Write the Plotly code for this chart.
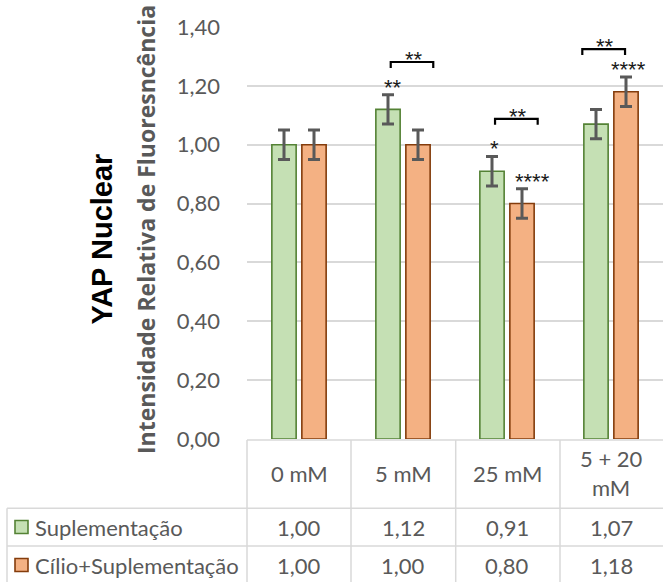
import plotly.graph_objects as go

# ---- data -------------------------------------------------------------
categories = ["0 mM", "5 mM", "25 mM", "5 + 20<br>mM"]
series_names = ["Suplementação", "Cílio+Suplementação"]
suplementacao = [1.00, 1.12, 0.91, 1.07]
cilio_suplementacao = [1.00, 1.00, 0.80, 1.18]
err_suplementacao = [0.05, 0.05, 0.05, 0.05]
err_cilio = [0.05, 0.05, 0.05, 0.05]
y_ticks = [0.0, 0.2, 0.4, 0.6, 0.8, 1.0, 1.2, 1.4]

# significance over single bars: (category, series, label)
bar_marks = [(1, 0, "**"), (2, 0, "*"), (2, 1, "****"), (3, 1, "****")]
# significance brackets: (category, label, bracket level)
bracket_marks = [(1, "**", 1.281), (2, "**", 1.088), (3, "**", 1.325)]

# ---- style ------------------------------------------------------------
FONT = "Lato"
STAR_FONT = "Liberation Sans"
GREY = "#595959"
GRID = "#d9d9d9"
FILLS = ["#c5e0b4", "#f4b183"]
EDGES = ["#548235", "#843c0c"]
BARGAP, GROUPGAP = 0.423, 0.19
SLOT = (1 - BARGAP) / 2
bar_mark_xshift = [4.5, 2, 10, 2]
bracket_span = [(-0.118, 0.291), (-0.115, 0.295), (-0.276, 0.135)]

W, H = 663, 582
L, T, B = 247, 27, 143
PW, PH = W - L, H - T - B


def px(x):
    return (x - L) / PW


def py(y):
    return (H - B - y) / PH


def fmt(v):
    return f"{v:.2f}".replace(".", ",")


xs = list(range(len(categories)))
values = [suplementacao, cilio_suplementacao]
errors = [err_suplementacao, err_cilio]

fig = go.Figure()
for i in range(2):
    fig.add_trace(go.Bar(
        x=xs, y=values[i], name=series_names[i],
        marker=dict(color=FILLS[i], line=dict(color=EDGES[i], width=1.6)),
        error_y=dict(type="data", array=errors[i], color=GREY,
                     thickness=3, width=6),
        showlegend=False,
    ))

annotations = []
shapes = []
star_font = dict(family=STAR_FONT, size=22, color="#1a1a1a")

# stars above bars
for (c, s, lab), xsft in zip(bar_marks, bar_mark_xshift):
    xc = c + (s - 0.5) * SLOT
    top = values[s][c] + errors[s][c]
    annotations.append(dict(
        x=xc, y=top, xref="x", yref="y", text=lab, showarrow=False,
        xshift=xsft, yshift=-7, yanchor="bottom", font=star_font))

# brackets with stars
for (c, lab, lvl), (a, b) in zip(bracket_marks, bracket_span):
    leg = 6 / (PH / 1.4)
    shapes.append(dict(
        type="path", xref="x", yref="y",
        path=f"M {c + a} {lvl - leg} L {c + a} {lvl} L {c + b} {lvl} L {c + b} {lvl - leg}",
        line=dict(color="black", width=2.2)))
    annotations.append(dict(
        x=c + (a + b) / 2, y=lvl, xref="x", yref="y", text=lab,
        showarrow=False, xshift=1.5, yshift=-12, yanchor="bottom",
        font=star_font))

# axis titles
annotations.append(dict(
    x=px(102), y=py(239.5), xref="paper", yref="paper",
    text="<b>YAP Nuclear</b>", textangle=-90, showarrow=False,
    xanchor="center", yanchor="middle",
    font=dict(family="Liberation Sans", size=29, color="black")))
annotations.append(dict(
    x=px(146), y=py(230), xref="paper", yref="paper",
    text="<b>Intensidade Relativa de Fluoresncência</b>", textangle=-90,
    showarrow=False, xanchor="center", yanchor="middle",
    font=dict(family="Open Sans", size=23, color=GREY)))

# ---- data table under the plot ---------------------------------------
row_top, row1, row2, row_bot = 440, 508.3, 546, 583
col_lines = [247, 351, 455.7, 560]
line_style = dict(color=GRID, width=1.5)

shapes.append(dict(type="line", xref="paper", yref="paper",
                   x0=px(247), x1=px(663), y0=py(row_top), y1=py(row_top),
                   line=line_style))
for yy in (row1, row2):
    shapes.append(dict(type="line", xref="paper", yref="paper",
                       x0=px(7), x1=px(663), y0=py(yy), y1=py(yy),
                       line=line_style))
for xx in col_lines:
    shapes.append(dict(type="line", xref="paper", yref="paper",
                       x0=px(xx), x1=px(xx), y0=py(row_top), y1=py(row_bot),
                       line=line_style))
shapes.append(dict(type="line", xref="paper", yref="paper",
                   x0=px(7), x1=px(7), y0=py(row1), y1=py(row_bot),
                   line=line_style))

cell_font = dict(family=FONT, size=22, color=GREY)
for i, cat in enumerate(categories):
    annotations.append(dict(
        x=i, y=py(473.5), xref="x", yref="paper", text=cat, showarrow=False,
        yanchor="middle", font=cell_font))
    for r, yy in enumerate((527, 565)):
        annotations.append(dict(
            x=i, y=py(yy), xref="x", yref="paper", text=fmt(values[r][i]),
            showarrow=False, yanchor="middle", font=cell_font))

for r, yy in enumerate((527, 565)):
    shapes.append(dict(type="rect", xref="paper", yref="paper",
                       x0=px(15), x1=px(28), y0=py(yy + 6.5), y1=py(yy - 6.5),
                       fillcolor=FILLS[r], line=dict(color=EDGES[r], width=1.6)))
    annotations.append(dict(
        x=px(33), y=py(yy), xref="paper", yref="paper", text=series_names[r],
        showarrow=False, xanchor="left", yanchor="middle", font=cell_font))

fig.update_layout(
    width=W, height=H,
    margin=dict(l=L, r=0, t=T, b=B, pad=0),
    paper_bgcolor="white", plot_bgcolor="white",
    barmode="group", bargap=BARGAP, bargroupgap=GROUPGAP,
    separators=",.",
    annotations=annotations, shapes=shapes,
    xaxis=dict(range=[-0.5, len(categories) - 0.5], showticklabels=False,
               showgrid=False, zeroline=False, showline=False, ticks=""),
    yaxis=dict(range=[0, 1.4], tickvals=y_ticks, tickformat=".2f",
               showgrid=True, gridcolor=GRID, gridwidth=1.5,
               zeroline=False, showline=False, ticks="",
               ticklabelstandoff=26,
               tickfont=dict(family=FONT, size=22, color=GREY)),
)

fig.write_html("out.html")
